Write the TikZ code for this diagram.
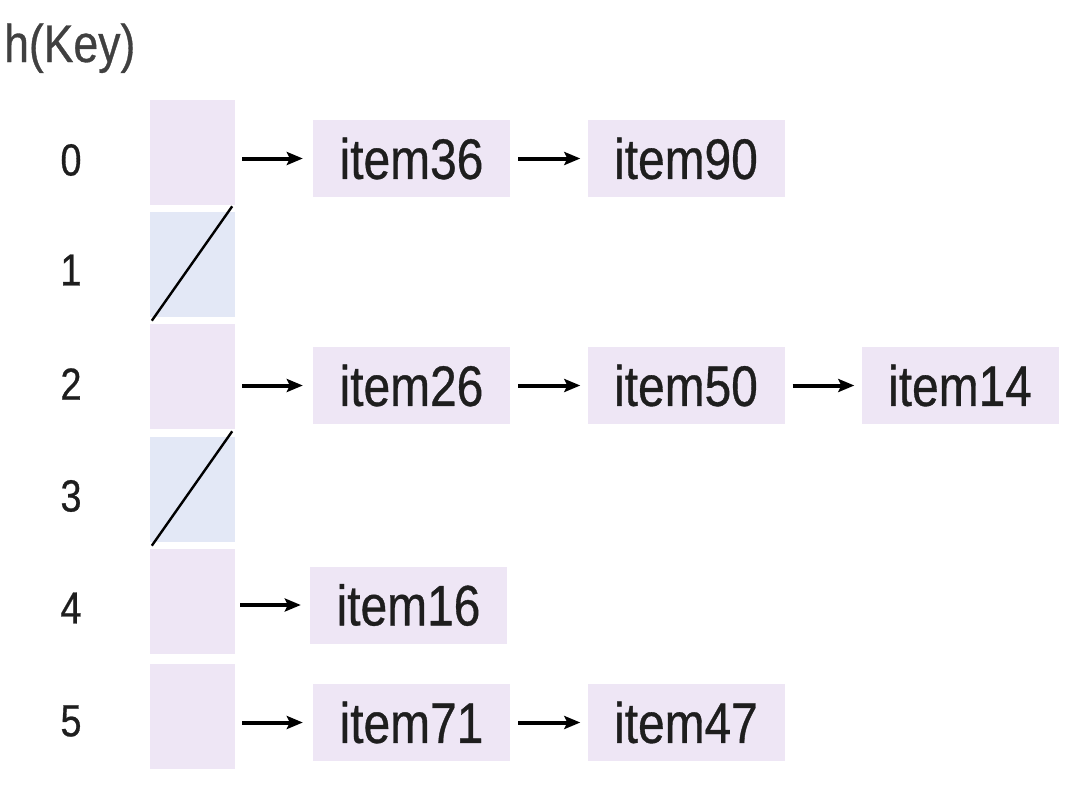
\documentclass[tikz,border=0pt]{standalone}
\usepackage{fontspec}
\setmainfont[FakeStretch=0.84,FakeBold=0.6]{Liberation Sans}
\usetikzlibrary{arrows.meta}
\definecolor{cellpink}{RGB}{238,230,245}
\definecolor{cellblue}{RGB}{227,232,246}
\definecolor{txt}{RGB}{30,30,30}
\begin{document}
\begin{tikzpicture}[x=1pt,y=-1pt,
  bucket/.style={fill=cellpink,draw=none,minimum width=85pt,minimum height=105pt,inner sep=0pt},
  nullbucket/.style={bucket,fill=cellblue},
  item/.style={fill=cellpink,draw=none,minimum width=197pt,minimum height=77pt,inner sep=0pt,text=txt,font=\fontsize{57}{60}\selectfont},
  idx/.style={text=txt,font=\fontsize{45}{48}\selectfont,inner sep=0pt},
  link/.style={-{Stealth[length=16pt,width=13pt,inset=3pt]},line width=4pt,black}]
\useasboundingbox (0,0) rectangle (1090,798);
\node[anchor=base west,inner sep=0pt,text=black!75,font=\fontsize{53}{56}\selectfont] (hk) at (4,62) {h(Key)};
% buckets
\node[bucket] (b0) at (192.5,152.5) {};
\node[nullbucket] (b1) at (192.5,264) {};
\node[bucket] (b2) at (192.5,376.5) {};
\node[nullbucket] (b3) at (192.5,489) {};
\node[bucket] (b4) at (192.5,601.5) {};
\node[bucket] (b5) at (192.5,716) {};
\draw[line width=2.4pt] ([xshift=2pt,yshift=-4pt]b1.south west) -- ([xshift=-3pt,yshift=5pt]b1.north east);
\draw[line width=2.4pt] ([xshift=2pt,yshift=-4pt]b3.south west) -- ([xshift=-3pt,yshift=5pt]b3.north east);
% indices
\node[idx] (i0) at (71,160) {0};
\node[idx] (i1) at (71,270) {1};
\node[idx] (i2) at (71,384) {2};
\node[idx] (i3) at (71,496) {3};
\node[idx] (i4) at (71,608) {4};
\node[idx] (i5) at (71,721) {5};
% items
\node[item] (a36) at (411.5,158.5) {item36};
\node[item] (a90) at (686,158.5) {item90};
\node[item] (a26) at (411.5,385.5) {item26};
\node[item] (a50) at (686,385.5) {item50};
\node[item] (a14) at (960,385.5) {item14};
\node[item] (a16) at (408.5,605) {item16};
\node[item] (a71) at (411.5,722.5) {item71};
\node[item] (a47) at (686,722.5) {item47};
% links
\draw[link] ([xshift=7pt]b0.east |- a36.west) -- ([xshift=-10pt]a36.west);
\draw[link] ([xshift=8pt]a36.east) -- ([xshift=-7pt]a90.west);
\draw[link] ([xshift=7pt]b2.east |- a26.west) -- ([xshift=-10pt]a26.west);
\draw[link] ([xshift=8pt]a26.east) -- ([xshift=-7pt]a50.west);
\draw[link] ([xshift=8pt]a50.east) -- ([xshift=-7pt]a14.west);
\draw[link] ([xshift=5pt]b4.east |- a16.west) -- ([xshift=-9pt]a16.west);
\draw[link] ([xshift=7pt]b5.east |- a71.west) -- ([xshift=-10pt]a71.west);
\draw[link] ([xshift=8pt]a71.east) -- ([xshift=-7pt]a47.west);
\end{tikzpicture}
\end{document}
